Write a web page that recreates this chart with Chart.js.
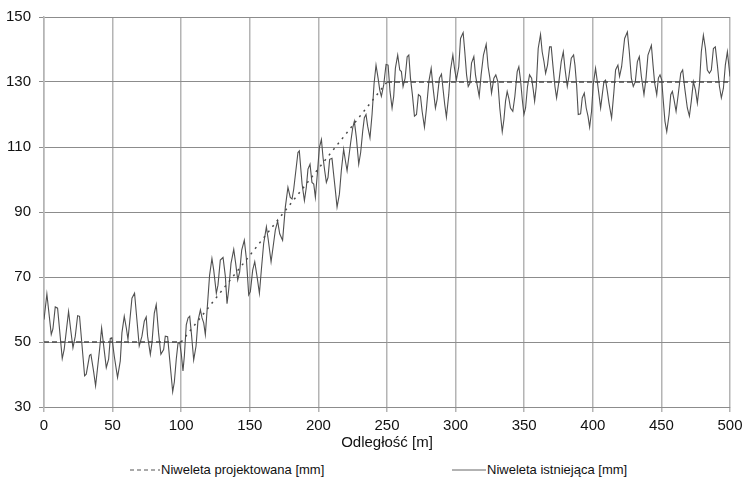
<!DOCTYPE html>
<html lang="pl">
<head>
<meta charset="utf-8">
<title>Niweleta</title>
<script src="https://cdn.jsdelivr.net/npm/chart.js@4.4.1/dist/chart.umd.min.js"></script>
<style>
    body { margin: 0; background: #fff; font-family: "Liberation Sans", Arial, sans-serif; }
    #wrap { position: relative; width: 742px; height: 455px; }
    #legenda { position: relative; width: 742px; height: 31px; font-size: 13px; color: #111; }
    .poz { position: absolute; top: 7px; display: flex; align-items: center; white-space: nowrap; }
    .poz svg { margin-right: 1px; }
</style>
</head>
<body>
<div id="wrap"><canvas id="wykres"></canvas></div>
<div id="legenda">
    <div class="poz" style="left:130px">
        <svg width="30" height="10"><line x1="0" y1="5" x2="30" y2="5" stroke="#555" stroke-width="1.2" stroke-dasharray="4 3"/></svg>
        <span>Niweleta projektowana [mm]</span>
    </div>
    <div class="poz" style="left:452px">
        <svg width="34" height="10"><line x1="0" y1="5" x2="34" y2="5" stroke="#666" stroke-width="1"/></svg>
        <span>Niweleta istniejąca [mm]</span>
    </div>
</div>
<script>
// osie
const xTicks = [0, 50, 100, 150, 200, 250, 300, 350, 400, 450, 500];
const yTicks = [30, 50, 70, 90, 110, 130, 150];

// niweleta projektowana (punkty załamania)
const projOdleglosc = [0, 100, 250, 500];
const projektowana = [50, 50, 130, 130];

// niweleta istniejąca
const odleglosc = [
    0, 2.1, 5.3, 6.5, 8.2, 9.9, 13.3, 14.7, 17.9, 19.6,
    21.1, 22.8, 24.5, 25.9, 29.6, 30.8, 33.2, 34.2, 36.1, 37.6,
    40.5, 42, 43.4, 45.4, 47.1, 48.3, 49.5, 51.2, 53.6, 55.6,
    56.8, 58.5, 60, 61.2, 62.4, 64.1, 66, 67.7, 69.4, 71.4,
    73.1, 74.5, 75.5, 77.5, 78.7, 80.4, 81.8, 83.5, 85.2, 87.2,
    88.4,
    90.1, 91.6, 93.8, 95, 96.4, 97.7, 98.9, 100.1, 101.3, 102.3,
    103.7, 105, 106.2, 107.4, 109.1, 110.8, 112.2, 114, 115.2, 116.4,
    117.6, 118.8, 120.7, 122.4, 123.7, 125.6, 126.8, 128.5, 130.5, 132.2,
    133.4, 134.6, 136.3, 138.3, 139.7, 141.2, 142.6, 144.1, 146, 147.5,
    149.2, 150.4, 152.1, 153.6, 155.3, 157, 158.4, 160.1, 162.1, 163.5,
    165.5, 167, 168.6, 170.3, 171.8, 173.9,
    175.9, 177.8, 179.5, 180.8, 182, 185.1, 186.1, 188.1, 189.8, 191.2,
    192.4, 193.9, 195.3, 196.6, 197.8, 199.2, 200.7, 202.2, 203.4, 204.6,
    205.8, 207, 208.2, 209.9, 211.1, 212.4, 213.6, 215.3, 216.7, 218.4,
    219.7, 220.9, 222.1, 223.5, 225, 226.2, 227.7, 229.4, 230.8, 232.3,
    233.5, 234.7, 235.9, 237.6, 239.1, 240.6, 242, 243.5, 244.7, 245.9,
    247.6, 249.3, 250.8, 252.2, 253.7,
    254.9, 256.1, 257.8, 259.3, 260.5, 261.7, 263.2, 264.7, 265.9, 267.1,
    268.5, 270, 271.5, 272.9, 274.4, 275.6, 277.3, 278.8, 280.5, 282.2,
    283.6, 285.3, 286.5, 288.2, 289.7, 290.9, 292.1, 293.3, 295, 296.3,
    298, 299.2, 300.6, 302.3, 303.6, 305.5, 306.7, 308, 309.2, 310.4,
    311.6, 313.3, 314.5, 315.7, 317.2, 318.6, 320.3, 322.3, 323.7, 325,
    326.2, 327.9, 329.3, 330.8, 332.2, 334, 335.2, 336.4, 337.6,
    338.8, 340, 341.7, 343.2, 344.9, 346.1, 347.3, 348.6, 349.8, 351,
    352.4, 353.9, 355.4, 356.6, 357.6, 358.8, 360.2, 361.9, 363.1, 364.4,
    365.6, 367, 368.5, 369.7, 370.9, 372.4, 373.6, 375.3, 377, 378.5,
    379.7, 381.4, 382.6, 384.3, 386, 387, 388.2, 389.4, 391.1, 392.3,
    393.8, 395.2, 396.5, 397.7, 399.1, 400.3, 402, 403.3, 404.5, 405.7,
    406.9, 408.1, 409.3, 410.6, 411.8, 413.7, 415.4, 416.6, 418.3, 419.5,
    421, 421.9,
    423.2, 425.2, 426.6, 428.1, 429.5, 431, 432.5, 433.9, 435.4, 437.3,
    438.8, 440.2, 442.7, 443.9, 445.1, 446.6, 447.8, 449, 450.2, 451.4,
    452.6, 453.9, 455.6, 456.8, 458, 459.2, 460.7, 462.1, 464.1, 465.5,
    467, 468.9, 470.4, 471.8, 473.3, 474.8, 476.2, 477.7, 479.1, 480.6,
    482.1, 483.5, 485, 486.4, 487.9, 489.3, 490.8, 492.3, 493.7, 495.2,
    496.6, 498.1, 500
];
const istniejaca = [
    56.9, 64.8, 52.3, 54, 60.8, 60.4, 44.9, 47.7, 59.4, 53.3,
    48.2, 51.8, 58.1, 57.9, 39.6, 40.1, 45.9, 46.2, 41.1, 36.5,
    47.7, 54.3, 49.2, 42.1, 44.7, 51.1, 51.3, 45.7, 39.1, 44.2,
    52.8, 57.9, 54.3, 50.8, 55.9, 63.5, 65, 56.9, 48.8, 51.8,
    56.4, 57.7, 51.8, 46.2, 49.8, 58.9, 61.5, 52.8, 46.2, 47.7,
    51.8,
    51.6, 44.7, 34.7, 37.7, 44.7, 49.7, 49.9, 46.2, 41.1, 45.7,
    55.3, 57.4, 57.9, 52.8, 44.5, 48.7, 56.4, 59.9, 57.4, 55.9,
    52.3, 59.4, 70.6, 75.7, 72.1, 65, 67.5, 75.2, 76, 70.1,
    61.8, 66, 74.2, 78.5, 74.2, 69.1, 71.6, 78.3, 81.3, 75.7,
    64.5, 65.5, 72.1, 74.7, 70.1, 65, 72.1, 80.3, 85.4, 81.3,
    74.7, 79.3, 84.4, 87.2, 83.3, 81.3,
    91.5, 97.6, 94.5, 94, 97, 108.3, 108.8, 98.6, 93.5, 97.6,
    103.2, 104.7, 99.1, 98.6, 94.5, 101.6, 109.8, 112.3, 106.7, 102.7,
    99.1, 100.6, 106.2, 106.5, 101.6, 96.5, 91.5, 95.5, 102.7, 109.3,
    105.7, 102.7, 106.7, 111.3, 115.9, 117.9, 112.8, 104.7, 108.3, 114.9,
    119, 120, 116.4, 112.8, 120, 129.6, 135.2, 131.2, 127.6, 125.6,
    129.1, 135.4, 135.2, 127.1, 122,
    125.6, 134.2, 138.3, 133.7, 133.2, 128.6, 131.2, 137.8, 138.3, 131.2,
    126.1, 119.5, 120, 126.1, 125.6, 121, 116.1, 122, 130.1, 134.2,
    128.1, 122, 124.6, 131.2, 132.4, 127.6, 123, 119.2, 126.1, 133.7,
    138.3, 134.2, 130.7, 134.7, 143.4, 145.2, 139.3, 132.2, 128.6, 129.6,
    135.8, 137.8, 132.2, 129.1, 125.6, 132.2, 138.3, 141.6, 134.7, 131.2,
    126.6, 131.2, 132.2, 130.1, 122, 114.7, 118.4, 124.1, 127.1,
    125, 122, 121, 125.6, 133.2, 134.7, 130.7, 124.6, 120, 122,
    128.6, 132.2, 131.2, 127.6, 124.1, 128.6, 140.3, 144.6, 139.3, 136.3,
    132.7, 135.2, 140.8, 140.8, 135.2, 128.6, 125.1, 130.1, 136.3, 139.3,
    134.2, 128.6, 131.7, 137.3, 138.3, 135.2, 129.1, 120, 120.2, 125.1,
    126.6, 122, 119.5, 116.1, 121, 129.1, 134.2, 130.1, 126.1, 122,
    126.1, 130.1, 130.6, 127.1, 123.5, 118.9, 127.1, 133.7, 135.2, 131.7,
    134.7, 138.3,
    143.4, 145.4, 139.3, 131.2, 128.6, 130.1, 136.3, 137.8, 131.7, 126.1,
    131.2, 138.3, 141.3, 135.2, 129.6, 126.1, 131.2, 132.2, 130.7, 124.1,
    117.9, 114.7, 120, 126.1, 127.1, 124.6, 121, 125.6, 132.7, 133.7,
    128.1, 122, 119.5, 124.1, 130.1, 127.6, 123.5, 129.1, 139.3, 144.4,
    140.3, 133.7, 132.7, 133.7, 140.3, 140.8, 135.2, 128.6, 125.1, 128.1,
    135.2, 139.3, 131.7
];

const czcionka = "'Liberation Sans', Arial, sans-serif";

const ctx = document.getElementById("wykres").getContext("2d");

new Chart(ctx, {
    type: "line",
    data: {
        datasets: [
            {
                label: "Niweleta projektowana [mm]",
                data: projOdleglosc.map((x, i) => ({ x, y: projektowana[i] })),
                borderColor: "#4a4a4a",
                borderWidth: 1.5,
                borderDash: [5, 3],
                segment: {
                    // odcinek pochyły wygląda jak kropki
                    borderDash: (c) => (c.p0.parsed.y === c.p1.parsed.y ? [5, 3] : [2, 5]),
                },
                pointRadius: 0,
                tension: 0,
            },
            {
                label: "Niweleta istniejąca [mm]",
                data: odleglosc.map((x, i) => ({ x, y: istniejaca[i] })),
                borderColor: "#505050",
                borderWidth: 1.1,
                pointRadius: 0,
                tension: 0,
            },
        ],
    },
    options: {
        responsive: true,
        maintainAspectRatio: false,
        animation: false,
        layout: { padding: { top: 6, right: 0, left: 0, bottom: 0 } },
        plugins: {
            legend: { display: false },
            tooltip: { enabled: false },
        },
        scales: {
            x: {
                type: "linear",
                min: 0,
                max: 500,
                afterBuildTicks: (s) => { s.ticks = xTicks.map((v) => ({ value: v })); },
                afterFit: (s) => {
                    s.height = 48;
                    s.paddingLeft = 0;
                    s.paddingRight = 12;
                },
                grid: { color: "#b4b4b4", lineWidth: 1.5, tickLength: 5 },
                border: { color: "#8c8c8c", width: 1 },
                ticks: { color: "#111", padding: 5, maxRotation: 0, font: { family: czcionka, size: 15 } },
                title: {
                    display: true,
                    text: "Odległość [m]",
                    color: "#111",
                    padding: { top: 2, bottom: 3 },
                    font: { family: czcionka, size: 15 },
                },
            },
            y: {
                min: 30,
                max: 150,
                afterBuildTicks: (s) => { s.ticks = yTicks.map((v) => ({ value: v })); },
                afterFit: (s) => { s.width = 44; },
                grid: { color: "#8c8c8c", lineWidth: 1, tickLength: 5 },
                border: { color: "#b4b4b4", width: 1.5 },
                ticks: { color: "#111", padding: 8, font: { family: czcionka, size: 15 } },
            },
        },
    },
});
</script>
</body>
</html>
